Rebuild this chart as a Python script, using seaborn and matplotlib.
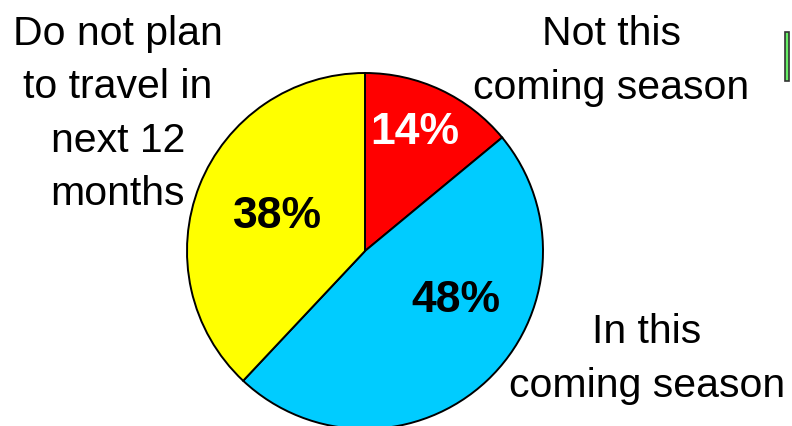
import matplotlib
matplotlib.use("Agg")
import matplotlib.pyplot as plt
import matplotlib.patches as mpatches
import seaborn as sns

# -------------------- DATA --------------------
categories = ["Not this\ncoming season", "In this\ncoming season",
              "Do not plan\nto travel in\nnext 12\nmonths"]
shares = [14, 48, 38]
colors = ["#ff0000", "#00ccff", "#ffff00"]
pct_colors = ["white", "black", "black"]

sns.set_theme(style="white")
plt.rcParams["font.family"] = ["Liberation Sans", "DejaVu Sans"]

W, H = 792, 427
fig = plt.figure(figsize=(W / 100, H / 100), dpi=100)
fig.patch.set_facecolor("white")

# pie centre (365, 252) px, radius 178 px
cx, cy, r = 365, 252, 178
ax = fig.add_axes([(cx - r) / W, (H - cy - r) / H, 2 * r / W, 2 * r / H])

wedges, _, autotexts = ax.pie(
    shares, colors=colors, startangle=90, counterclock=False,
    autopct="%d%%", radius=1,
    wedgeprops=dict(edgecolor="black", linewidth=1.4),
    textprops=dict(fontsize=32, fontweight="bold"),
)
ax.set_xlim(-1, 1)
ax.set_ylim(-1, 1)
ax.set_aspect("equal")
ax.axis("off")

pct_pos = [(0.28, 0.67), (0.51, -0.27), (-0.49, 0.20)]
for t, c, p in zip(autotexts, pct_colors, pct_pos):
    t.set_color(c)
    t.set_position(p)
    t.set_ha("center")
    t.set_va("center")

# category labels
label_pos = [(611, 61), (647, 359), (118, 114)]
for lab, (x, y) in zip(categories, label_pos):
    fig.text(x / W, 1 - y / H, lab, ha="center", va="center",
             fontsize=29.5, color="black", linespacing=1.52)

# clipped legend swatch at the right edge
fig.patches.append(mpatches.Rectangle(
    (785 / W, 1 - 82 / H), 4 / W, 49 / H, transform=fig.transFigure,
    facecolor="#66ee66", edgecolor="#333333", linewidth=1.2))

fig.savefig("out.png", dpi=100)
